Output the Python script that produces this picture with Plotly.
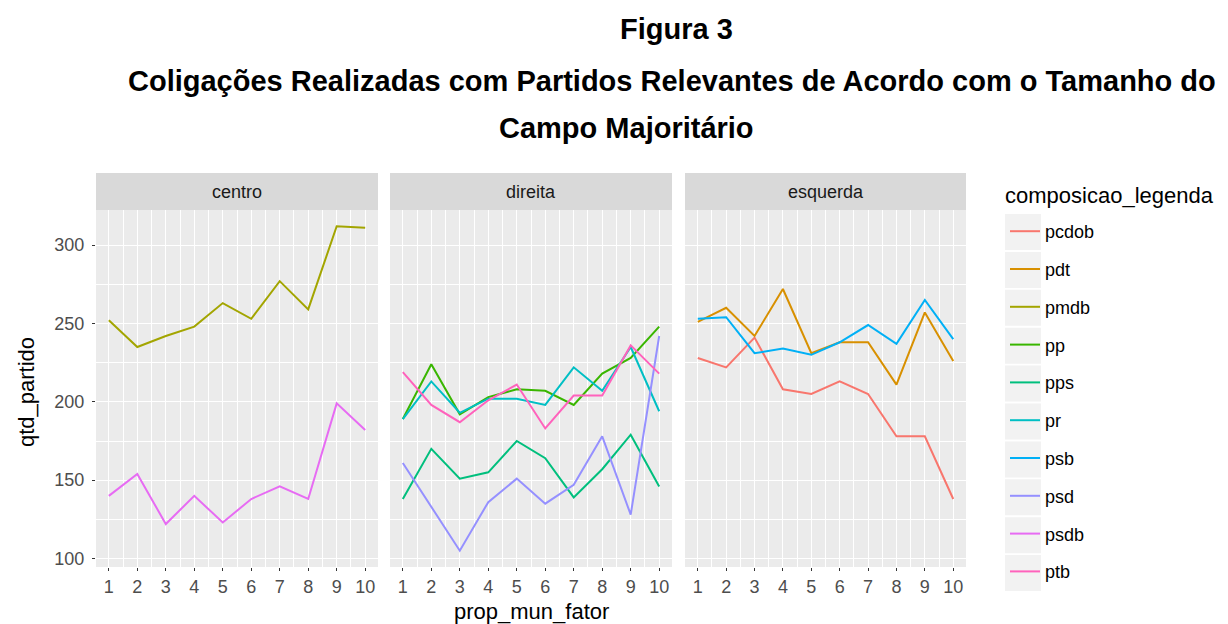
import plotly.graph_objects as go
from plotly.subplots import make_subplots

x_vals = [1, 2, 3, 4, 5, 6, 7, 8, 9, 10]
panels = ["centro", "direita", "esquerda"]

pcdob = [228, 222, 241, 208, 205, 213, 205, 178, 178, 138]
pdt = [251, 260, 242, 272, 231, 238, 238, 211, 257, 226]
pmdb = [252, 235, 242, 248, 263, 253, 277, 259, 312, 311]
pp = [189, 224, 192, 203, 208, 207, 198, 218, 228, 248]
pps = [138, 170, 151, 155, 175, 164, 139, 157, 179, 146]
pr = [189, 213, 193, 202, 202, 198, 222, 207, 235, 194]
psb = [253, 254, 231, 234, 230, 238, 249, 237, 265, 240]
psd = [161, 133, 105, 136, 151, 135, 147, 178, 128, 242]
psdb = [140, 154, 122, 140, 123, 138, 146, 138, 199, 182]
ptb = [219, 198, 187, 201, 211, 183, 204, 204, 236, 218]

parties = ["pcdob", "pdt", "pmdb", "pp", "pps", "pr", "psb", "psd", "psdb", "ptb"]
party_panel = ["esquerda", "esquerda", "centro", "direita", "direita",
               "direita", "esquerda", "direita", "centro", "direita"]
party_values = [pcdob, pdt, pmdb, pp, pps, pr, psb, psd, psdb, ptb]
colors = ["#F8766D", "#D89000", "#A3A500", "#39B600", "#00BF7D",
          "#00BFC4", "#00B0F6", "#9590FF", "#E76BF3", "#FF62BC"]
y_ticks = [100, 150, 200, 250, 300]

# page body has an 8px margin -> work in figure pixels = page pixels - 8
OFF = 8
W, H = 1228 - OFF, 624 - OFF
L, R, T, B = 96 - OFF, 966 - OFF, 210 - OFF, 567 - OFF
PW, PH = R - L, B - T


def px2x(px):
    return (px - OFF - L) / PW


def py2y(py):
    return (B - (py - OFF)) / PH


fig = make_subplots(rows=1, cols=3, shared_yaxes=True, horizontal_spacing=0.0)
doms = [(96, 378), (390, 672), (685, 966)]

for i, (p, pan, vals, c) in enumerate(zip(parties, party_panel, party_values, colors)):
    col = panels.index(pan) + 1
    fig.add_trace(go.Scatter(x=x_vals, y=vals, mode="lines", name=p,
                             line=dict(color=c, width=2),
                             legendgroup=p, showlegend=True),
                  row=1, col=col)

font_main = "Liberation Sans, Arial, Helvetica, sans-serif"

for k, (a, b) in enumerate(doms):
    xa = "xaxis" if k == 0 else f"xaxis{k+1}"
    fig.layout[xa].update(domain=[px2x(a), px2x(b)], range=[0.55, 10.45],
                          tickvals=x_vals, ticktext=[str(v) for v in x_vals],
                          showgrid=True, gridcolor="white", gridwidth=1.3,
                          minor=dict(dtick=0.5, tick0=0.5, showgrid=True, gridcolor="white", gridwidth=0.6),
                          zeroline=False, ticks="outside", ticklen=3, tickwidth=1.1,
                          tickcolor="#333333", showline=False, ticklabelstandoff=0,
                          tickfont=dict(family=font_main, size=18, color="#4D4D4D"))
    ya = "yaxis" if k == 0 else f"yaxis{k+1}"
    fig.layout[ya].update(range=[94.6, 322.4], tickvals=y_ticks,
                          showgrid=True, gridcolor="white", gridwidth=1.3,
                          minor=dict(dtick=25, tick0=75, showgrid=True, gridcolor="white", gridwidth=0.6),
                          zeroline=False, showline=False,
                          ticks="outside" if k == 0 else "", ticklen=3, tickwidth=1.1,
                          tickcolor="#333333", showticklabels=(k == 0), ticklabelstandoff=4,
                          tickfont=dict(family=font_main, size=18, color="#4D4D4D"))
    fig.add_shape(type="rect", xref="paper", yref="paper",
                  x0=px2x(a), x1=px2x(b), y0=1.0, y1=py2y(173),
                  fillcolor="#D9D9D9", line=dict(width=0), layer="below")
    fig.add_annotation(text=panels[k], xref="paper", yref="paper",
                       x=px2x((a + b) / 2), y=py2y(191.5), xanchor="center", yanchor="middle",
                       showarrow=False, font=dict(family=font_main, size=18, color="#1A1A1A"))

# legend key background boxes
for i in range(len(parties)):
    yc = 232 + 37.9 * i
    fig.add_shape(type="rect", xref="paper", yref="paper",
                  x0=px2x(1005), x1=px2x(1041), y0=py2y(yc + 18), y1=py2y(yc - 18),
                  fillcolor="#F2F2F2", line=dict(width=0), layer="below")

fig.add_annotation(text="composicao_legenda", xref="paper", yref="paper",
                   x=px2x(1003), y=py2y(196), xanchor="left", yanchor="middle",
                   showarrow=False, font=dict(family=font_main, size=22, color="black"))

fig.add_annotation(text="prop_mun_fator", xref="paper", yref="paper",
                   x=px2x(531), y=py2y(611), xanchor="center", yanchor="middle",
                   showarrow=False, font=dict(family=font_main, size=22, color="black"))
fig.add_annotation(text="qtd_partido", xref="paper", yref="paper",
                   x=px2x(26), y=py2y(392), xanchor="center", yanchor="middle", textangle=-90,
                   showarrow=False, font=dict(family=font_main, size=22, color="black"))

fig.add_annotation(text="<b>Figura 3</b>", xref="paper", yref="paper",
                   x=px2x(676), y=py2y(29), xanchor="center", yanchor="middle",
                   showarrow=False, font=dict(family=font_main, size=29, color="black"))
fig.add_annotation(text="<b>Coligações Realizadas com Partidos Relevantes de Acordo com o Tamanho do</b>",
                   xref="paper", yref="paper",
                   x=px2x(672), y=py2y(81), xanchor="center", yanchor="middle",
                   showarrow=False, font=dict(family=font_main, size=29, color="black"))
fig.add_annotation(text="<b>Campo Majoritário</b>", xref="paper", yref="paper",
                   x=px2x(626), y=py2y(128), xanchor="center", yanchor="middle",
                   showarrow=False, font=dict(family=font_main, size=29, color="black"))

fig.update_layout(
    width=W, height=H,
    margin=dict(l=L, r=W - R, t=T, b=H - B, autoexpand=False),
    paper_bgcolor="white", plot_bgcolor="#EBEBEB",
    showlegend=True,
    legend=dict(font=dict(family=font_main, size=18, color="black"),
                xref="container", yref="container", x=997 / W, y=1 - 205 / H,
                xanchor="left", yanchor="top", tracegroupgap=11.4,
                bgcolor="rgba(0,0,0,0)", itemwidth=30, maxheight=600),
)

fig.write_html("out.html")
